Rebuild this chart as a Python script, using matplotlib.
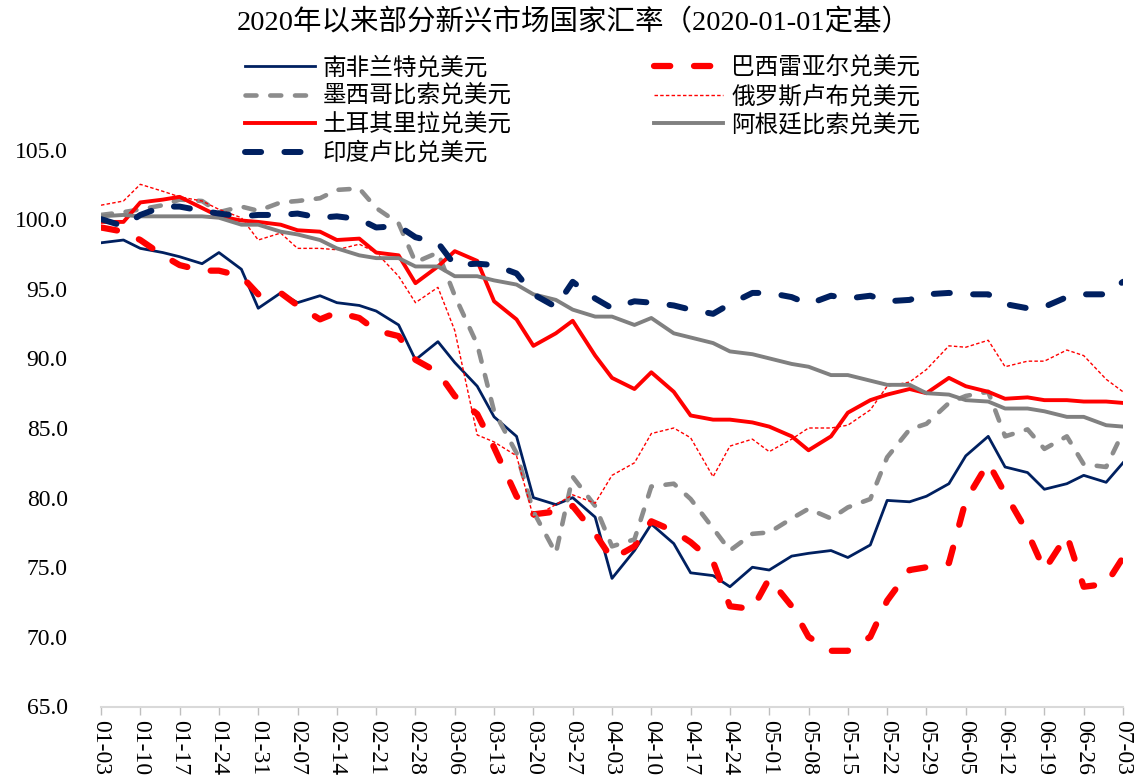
import numpy as np
import pandas as pd
import matplotlib
matplotlib.use("Agg")
import matplotlib.pyplot as plt
import matplotlib.dates as mdates

plt.rcParams['font.family'] = ['Liberation Serif', 'Noto Sans CJK SC']

# observation dates: Tuesdays and Fridays, 2020-01-03 .. 2020-07-03
days = pd.date_range("2020-01-03", "2020-07-03", freq="D")
dates = days[(days.weekday == 1) | (days.weekday == 4)]

# index values, 2020-01-01 = 100 (one row per month)
zar = [98.3, 98.5, 97.9, 97.6, 97.3, 96.8, 97.6, 96.4, 93.6,
       94.7, 94.0, 94.5, 94.0, 93.8, 93.4, 92.4, 89.9,
       91.2, 89.7, 88.0, 85.8, 84.4, 80.0, 79.5, 80.0, 78.6,
       74.2, 76.2, 78.1, 76.7, 74.6, 74.4, 73.6, 75.0,
       74.8, 75.8, 76.0, 76.2, 75.7, 76.6, 79.8, 79.7, 80.1,
       81.0, 83.0, 84.4, 82.2, 81.8, 80.6, 81.0, 81.6, 81.1,
       82.5]
brl = [99.4, 99.1, 98.5, 97.4, 96.7, 96.3, 96.3, 95.9, 94.6,
       94.7, 93.8, 92.8, 93.3, 92.9, 92.0, 91.6, 89.9,
       89.0, 87.3, 86.0, 83.6, 80.1, 78.8, 79.0, 79.4, 77.4,
       75.6, 76.5, 78.3, 77.6, 76.8, 75.4, 72.2, 72.0,
       74.2, 72.2, 70.0, 69.0, 69.0, 70.0, 72.6, 74.8, 75.0,
       75.3, 79.8, 82.5, 80.3, 77.5, 74.8, 77.3, 73.6, 73.8,
       75.7]
mxn = [100.3, 100.5, 100.7, 101.0, 101.4, 101.3, 100.5, 100.9, 100.6,
       101.2, 101.3, 101.5, 102.1, 102.2, 100.8, 99.7, 96.9,
       97.6, 94.5, 91.0, 86.2, 83.2, 79.0, 76.0, 81.5, 79.4,
       76.5, 77.0, 80.8, 81.0, 79.9, 77.8, 76.2, 77.4,
       77.5, 78.5, 79.2, 78.5, 79.3, 79.9, 82.9, 84.9, 85.3,
       86.8, 87.3, 87.6, 84.4, 84.9, 83.5, 84.4, 82.4, 82.2,
       84.7]
rub = [101.0, 101.3, 102.5, 102.0, 101.6, 101.3, 100.7, 100.1, 98.5,
       99.0, 97.9, 97.9, 97.8, 98.2, 97.6, 95.9, 94.0,
       95.1, 92.0, 84.5, 84.0, 83.0, 78.6, 79.5, 80.2, 79.6,
       81.6, 82.5, 84.6, 85.0, 84.3, 81.5, 83.7, 84.2,
       83.3, 84.2, 85.0, 85.0, 85.2, 86.3, 88.0, 88.3, 89.2,
       90.9, 90.8, 91.3, 89.4, 89.8, 89.8, 90.6, 90.2, 88.5,
       87.6]
tr = [99.8, 99.8, 101.2, 101.4, 101.6, 100.8, 100.2, 99.9, 99.8,
      99.6, 99.2, 99.1, 98.5, 98.6, 97.6, 97.4, 95.4,
      96.6, 97.7, 97.0, 94.1, 92.8, 90.9, 91.8, 92.7, 90.2,
      88.6, 87.8, 89.0, 87.6, 85.9, 85.6, 85.6, 85.4,
      85.1, 84.4, 83.4, 84.4, 86.1, 87.0, 87.4, 87.8, 87.5,
      88.6, 88.0, 87.6, 87.1, 87.2, 87.0, 87.0, 86.9, 86.9,
      86.8]
ars = [100.2, 100.3, 100.2, 100.2, 100.2, 100.2, 100.1, 99.6, 99.6,
       99.1, 98.9, 98.5, 97.9, 97.4, 97.2, 97.2, 96.6,
       96.6, 95.9, 95.9, 95.6, 95.3, 94.6, 94.2, 93.5, 93.0,
       93.0, 92.4, 92.9, 91.8, 91.5, 91.1, 90.5, 90.3,
       90.0, 89.6, 89.4, 88.8, 88.8, 88.4, 88.1, 88.1, 87.5,
       87.4, 87.0, 86.9, 86.4, 86.4, 86.2, 85.8, 85.8, 85.2,
       85.1]
inr = [100.0, 99.5, 100.3, 100.9, 100.9, 100.6, 100.4, 100.2, 100.3,
       100.3, 100.4, 100.1, 100.2, 100.0, 99.4, 99.5, 98.7,
       98.3, 96.7, 96.8, 96.7, 96.1, 94.6, 93.7, 95.5, 94.3,
       93.6, 94.1, 94.0, 93.8, 93.5, 93.2, 93.9, 94.7,
       94.7, 94.4, 93.9, 94.5, 94.3, 94.5, 94.1, 94.2, 94.6,
       94.7, 94.6, 94.6, 93.9, 93.6, 93.7, 94.4, 94.6, 94.6,
       95.5]

names = ["南非兰特兑美元", "巴西雷亚尔兑美元", "墨西哥比索兑美元", "俄罗斯卢布兑美元",
         "土耳其里拉兑美元", "阿根廷比索兑美元", "印度卢比兑美元"]

navy = "#002060"
red = "#FF0000"
styles = [
    dict(color=navy, lw=2.0),
    dict(color=red, lw=4.5, ls=(0, (2.6, 3.8)), dash_capstyle="round"),
    dict(color="#8C8C8C", lw=3.3, ls=(0, (2.4, 3.0)), dash_capstyle="round"),
    dict(color=red, lw=1.0, ls=(0, (2.5, 1.6))),
    dict(color=red, lw=2.8),
    dict(color="#808080", lw=2.8),
    dict(color=navy, lw=4.3, ls=(0, (2.7, 3.9)), dash_capstyle="round"),
]

W, H = 1134, 780
fig = plt.figure(figsize=(W / 100, H / 100), dpi=100)
ax = fig.add_axes([101 / W, (H - 706.5) / H, (1123 - 101) / W, (706.5 - 149.5) / H])

handles = []
for vals, name, st in zip([zar, brl, mxn, rub, tr, ars, inr], names, styles):
    ln, = ax.plot(dates, vals, label=name, solid_joinstyle="round",
                  dash_joinstyle="round", **st)
    handles.append(ln)

ax.set_xlim(pd.Timestamp("2020-01-03"), pd.Timestamp("2020-07-03"))
ax.set_ylim(65, 105)
ax.set_yticks(np.arange(65, 106, 5))
ax.set_yticklabels([f"{v:.1f}" for v in np.arange(65, 106, 5)], fontsize=17)
ax.tick_params(axis="y", length=0, pad=24)

weeks = pd.date_range("2020-01-03", "2020-07-03", freq="7D")
ax.set_xticks(weeks)
ax.xaxis.set_major_formatter(mdates.DateFormatter("%m-%d"))
ax.tick_params(axis="x", direction="out", length=6, width=1, color="#BFBFBF",
               pad=4, labelsize=17)
for lab in ax.get_xticklabels():
    lab.set_rotation(-90)
    lab.set_ha("center")
    lab.set_va("top")

for s in ["top", "right", "left"]:
    ax.spines[s].set_visible(False)
ax.spines["bottom"].set_color("#D9D9D9")
ax.spines["bottom"].set_linewidth(1.5)

fig.text(573.5 / W, 1 - 23 / H, "2020年以来部分新兴市场国家汇率（2020-01-01定基）",
         ha="center", va="center", fontsize=20.5)

# legend: two columns, filled column by column
order = [0, 2, 4, 6, 1, 3, 5]
fig.legend([handles[i] for i in order], [names[i] for i in order],
           ncol=2, loc="upper left", bbox_to_anchor=(245 / W, 1 - 57 / H),
           frameon=False, fontsize=17, handlelength=2.95, handletextpad=0.35,
           columnspacing=6.0, labelspacing=0.25, borderpad=0, borderaxespad=0)

fig.savefig("out.png", dpi=100)
